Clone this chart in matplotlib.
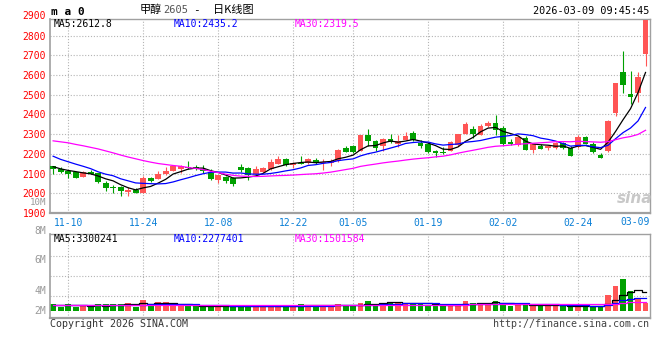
import matplotlib
matplotlib.use('Agg')
import matplotlib.pyplot as plt
import matplotlib.transforms as mtransforms
import numpy as np

# 日K数据 (11-06 ~ 03-09, 共80根)
opens = [2137, 2123, 2113, 2109, 2084, 2109, 2101, 2051, 2032, 2032,
         2009, 2019, 2002, 2077, 2072, 2096, 2114, 2124, 2132, 2133,
         2125, 2110, 2068, 2085, 2075, 2134, 2127, 2097, 2110, 2122,
         2150, 2173, 2143, 2156, 2156, 2168, 2156, 2156, 2162, 2230,
         2241, 2212, 2297, 2265, 2239, 2277, 2251, 2272, 2308, 2255,
         2248, 2212, 2207, 2214, 2243, 2301, 2328, 2297, 2340, 2359,
         2329, 2259, 2244, 2278, 2222, 2239, 2232, 2232, 2256, 2232,
         2235, 2286, 2252, 2196, 2215, 2409, 2614, 2502, 2511, 2707]
highs = [2140, 2132, 2115, 2110, 2115, 2120, 2105, 2060, 2041, 2035,
         2034, 2029, 2087, 2085, 2111, 2135, 2140, 2145, 2162, 2143,
         2143, 2122, 2095, 2090, 2085, 2148, 2134, 2138, 2132, 2173,
         2190, 2178, 2160, 2190, 2177, 2177, 2173, 2173, 2225, 2238,
         2245, 2297, 2325, 2268, 2279, 2303, 2297, 2313, 2316, 2268,
         2260, 2222, 2234, 2265, 2303, 2362, 2342, 2350, 2366, 2396,
         2342, 2273, 2285, 2290, 2250, 2252, 2244, 2261, 2261, 2239,
         2295, 2293, 2261, 2205, 2371, 2558, 2723, 2621, 2614, 2880]
lows = [2096, 2105, 2075, 2078, 2082, 2096, 2050, 2012, 2000, 1986,
        1986, 2000, 2000, 2055, 2070, 2094, 2111, 2101, 2125, 2120,
        2105, 2066, 2050, 2054, 2037, 2110, 2066, 2088, 2105, 2119,
        2149, 2140, 2127, 2148, 2151, 2150, 2119, 2140, 2160, 2208,
        2205, 2212, 2239, 2217, 2217, 2255, 2234, 2268, 2265, 2229,
        2203, 2186, 2200, 2212, 2239, 2300, 2280, 2294, 2337, 2297,
        2244, 2245, 2240, 2218, 2202, 2227, 2218, 2227, 2227, 2188,
        2232, 2252, 2205, 2179, 2210, 2393, 2507, 2453, 2465, 2646]
closes = [2123, 2108, 2099, 2079, 2109, 2097, 2055, 2027, 2027, 2012,
          2019, 2002, 2077, 2063, 2097, 2114, 2137, 2137, 2127, 2123,
          2115, 2071, 2093, 2062, 2045, 2119, 2091, 2122, 2127, 2160,
          2173, 2143, 2153, 2151, 2173, 2156, 2161, 2165, 2220, 2211,
          2211, 2297, 2263, 2229, 2277, 2260, 2267, 2292, 2268, 2238,
          2209, 2202, 2202, 2260, 2303, 2350, 2303, 2342, 2355, 2320,
          2249, 2249, 2283, 2222, 2249, 2227, 2239, 2256, 2229, 2188,
          2286, 2252, 2210, 2179, 2368, 2558, 2550, 2490, 2589, 2877]

ma5 = [2135, 2124, 2116, 2110, 2103.6, 2098.4, 2087.8, 2073.4, 2063, 2043.6,
       2028, 2017.4, 2027.4, 2034.6, 2051.6, 2070.6, 2097.6, 2109.6, 2122.4, 2127.6,
       2127.8, 2114.6, 2105.8, 2092.8, 2077.2, 2078, 2082, 2087.8, 2100.8, 2123.8,
       2134.6, 2145, 2151.2, 2156, 2158.6, 2155.2, 2158.8, 2161.2, 2175, 2182.6,
       2193.6, 2220.8, 2240.4, 2242.2, 2255.4, 2265.2, 2259.2, 2265, 2272.8, 2265,
       2254.8, 2241.8, 2223.8, 2222.2, 2235.2, 2263.4, 2283.6, 2311.6, 2330.6, 2334,
       2313.8, 2303, 2291.2, 2264.6, 2250.4, 2246, 2244, 2238.6, 2240, 2227.8,
       2239.6, 2242.2, 2233, 2223, 2259, 2313.4, 2373, 2429, 2511, 2612.8]
ma10 = [2188, 2172, 2160, 2148, 2137, 2125, 2109, 2097, 2089, 2073.6,
        2063.2, 2052.6, 2050.4, 2048.8, 2047.6, 2049.3, 2057.5, 2068.5, 2078.5, 2089.6,
        2099.2, 2106.1, 2107.7, 2107.6, 2102.4, 2102.9, 2098.3, 2096.8, 2096.8, 2100.5,
        2106.3, 2113.5, 2119.5, 2128.4, 2141.2, 2144.9, 2151.9, 2156.2, 2165.5, 2170.6,
        2174.4, 2189.8, 2200.8, 2208.6, 2219, 2229.4, 2240, 2252.7, 2257.5, 2260.2,
        2260, 2250.5, 2244.4, 2247.5, 2250.1, 2259.1, 2262.7, 2267.7, 2276.4, 2284.6,
        2288.6, 2293.3, 2301.4, 2297.6, 2292.2, 2279.9, 2273.5, 2264.9, 2252.3, 2239.1,
        2242.8, 2243.1, 2235.8, 2231.5, 2243.4, 2276.5, 2307.6, 2331, 2367, 2435.2]
ma30 = [2266, 2261, 2256, 2248, 2241, 2233, 2225, 2215, 2205, 2194,
        2184, 2175, 2166, 2158, 2151, 2146, 2141, 2137, 2131, 2126,
        2120, 2112, 2105, 2097, 2091, 2087, 2086, 2085, 2086, 2087.9,
        2089.6, 2090.7, 2092.5, 2094.9, 2097.1, 2099, 2102.6, 2107.2, 2113.6, 2120.2,
        2126.6, 2136.5, 2142.7, 2148.2, 2154.2, 2159.1, 2163.4, 2168.6, 2173.3, 2177.1,
        2180.2, 2184.6, 2188.2, 2194.8, 2203.4, 2211.1, 2218.2, 2225.5, 2233.1, 2238.5,
        2241, 2244.5, 2248.9, 2251.2, 2253.8, 2256.1, 2258.7, 2261.8, 2262.1, 2261.3,
        2263.8, 2262.3, 2260.5, 2258.9, 2261.9, 2271.8, 2281.3, 2287.9, 2298.6, 2319.5]

# 成交量 (百万)
volume = [1.15, 0.75, 1.3, 0.75, 1.0, 0.75, 1.15, 1.15, 1.15, 1.3,
          1.45, 0.75, 1.9, 1.0, 1.6, 1.6, 1.0, 0.85, 0.85, 0.8,
          0.85, 0.85, 0.8, 0.8, 0.85, 0.8, 0.8, 0.85, 0.8, 0.85,
          0.9, 0.85, 0.95, 1.2, 1.0, 0.85, 1.0, 0.9, 1.2, 1.05,
          0.85, 1.45, 1.75, 1.3, 1.45, 1.45, 1.45, 1.45, 1.45, 1.2,
          1.0, 0.85, 0.85, 1.15, 1.3, 1.75, 1.45, 1.3, 1.3, 1.75,
          1.45, 0.85, 1.15, 1.0, 1.0, 1.0, 1.0, 1.0, 0.85, 0.85,
          1.0, 0.86, 0.86, 0.86, 2.7, 4.2, 5.4, 3.5, 2.0, 1.4]
vma5 = [1.1, 1.05, 1.05, 1.0, 0.99, 0.91, 0.99, 0.96, 1.04, 1.1,
        1.24, 1.16, 1.31, 1.28, 1.34, 1.37, 1.42, 1.21, 1.18, 1.02,
        0.87, 0.84, 0.83, 0.82, 0.83, 0.82, 0.81, 0.82, 0.82, 0.82,
        0.84, 0.85, 0.87, 0.95, 0.98, 0.97, 1.0, 0.99, 0.99, 1.0,
        1.0, 1.09, 1.26, 1.28, 1.36, 1.48, 1.48, 1.42, 1.45, 1.4,
        1.31, 1.19, 1.07, 1.01, 1.03, 1.18, 1.3, 1.39, 1.42, 1.51,
        1.45, 1.33, 1.3, 1.24, 1.09, 1.0, 1.03, 1.0, 0.97, 0.94,
        0.94, 0.91, 0.88, 0.89, 1.26, 1.9, 2.8, 3.33, 3.56, 3.30]
vma10 = [1.1, 1.1, 1.08, 1.08, 1.06, 1.05, 1.05, 1.04, 1.04, 1.045,
         1.075, 1.075, 1.135, 1.16, 1.22, 1.305, 1.29, 1.26, 1.23, 1.18,
         1.12, 1.13, 1.02, 1.0, 0.925, 0.845, 0.825, 0.825, 0.82, 0.825,
         0.83, 0.83, 0.845, 0.885, 0.9, 0.905, 0.925, 0.93, 0.97, 0.99,
         0.985, 1.045, 1.125, 1.135, 1.18, 1.24, 1.285, 1.34, 1.365, 1.38,
         1.395, 1.335, 1.245, 1.23, 1.215, 1.245, 1.245, 1.23, 1.215, 1.27,
         1.315, 1.315, 1.345, 1.33, 1.3, 1.225, 1.18, 1.15, 1.105, 1.015,
         0.97, 0.971, 0.942, 0.928, 1.098, 1.418, 1.858, 2.108, 2.223, 2.277]
vma30 = [1.05, 1.05, 1.05, 1.04, 1.04, 1.04, 1.03, 1.03, 1.03, 1.03,
         1.03, 1.02, 1.03, 1.03, 1.04, 1.05, 1.05, 1.05, 1.04, 1.04,
         1.04, 1.03, 1.03, 1.03, 1.02, 1.02, 1.02, 1.02, 1.02, 1.017,
         1.008, 1.012, 1.0, 1.015, 1.015, 1.018, 1.013, 1.005, 1.007, 0.998,
         0.978, 1.002, 0.997, 1.007, 1.002, 0.997, 1.012, 1.032, 1.052, 1.065,
         1.07, 1.07, 1.072, 1.083, 1.098, 1.13, 1.152, 1.167, 1.183, 1.213,
         1.232, 1.232, 1.238, 1.232, 1.232, 1.237, 1.237, 1.24, 1.228, 1.222,
         1.227, 1.207, 1.177, 1.163, 1.204, 1.296, 1.428, 1.496, 1.514, 1.502]

# 日期刻度 (K线序号 -> 标签)
tick_idx = [2, 12, 22, 32, 40, 50, 60, 70]
tick_dates = ['11-10', '11-24', '12-08', '12-22', '01-05', '01-19', '02-02', '02-24']
last_date = '03-09'

price_ticks = [1900, 2000, 2100, 2200, 2300, 2400, 2500, 2600, 2700, 2800, 2900]
vol_labels = ['2M', '4M', '6M', '8M', '10M']
vol_label_at = [0.0, 3.4, 8.7, 13.6, 18.45]

title_name = '甲醇'
title_code = '2605'
title_rest = '日K线图'
stamp = '2026-03-09 09:45:45'
ma_price = ['MA5:2612.8', 'MA10:2435.2', 'MA30:2319.5']
ma_vol = ['MA5:3300241', 'MA10:2277401', 'MA30:1501584']

RED = '#ff5555'
GREEN = '#00a000'
MONO = 'DejaVu Sans Mono'
CJK = ['Noto Sans CJK SC', 'DejaVu Sans']
GRID = dict(color='#b4b4b4', linestyle=(0, (1, 1.6)), linewidth=0.8)
MA_COLORS = ['black', '#0000ff', '#ff00ff']

W, H = 660, 360
fig = plt.figure(figsize=(W / 100, H / 100), dpi=100)
fig.patch.set_facecolor('white')


def px_box(l, t, r, b):
    return [l / W, 1 - b / H, (r - l) / W, (b - t) / H]


def ftext(px, py, s, **kw):
    kw.setdefault('va', 'center')
    fig.text(px / W, 1 - py / H, s, **kw)


def style_spines(a):
    for side, lw in (('left', 1.2), ('bottom', 1.6), ('top', 1.0), ('right', 1.0)):
        a.spines[side].set_color('#a0a0a0')
        a.spines[side].set_linewidth(lw)


ax = fig.add_axes(px_box(50.5, 19, 649.5, 213))
axv = fig.add_axes(px_box(50.5, 234.3, 649.5, 317.7))

x = np.arange(len(closes))
o = np.array(opens, dtype=float)
c = np.array(closes, dtype=float)
up = c >= o
colors = np.where(up, RED, GREEN)

# K线
ax.vlines(x, lows, highs, colors=colors, linewidth=0.8, zorder=2)
ax.bar(x, np.maximum(np.abs(c - o), 3), bottom=np.minimum(o, c), width=0.78,
       color=colors, linewidth=0, zorder=3)
for vals, col in zip((ma5, ma10, ma30), MA_COLORS):
    ax.plot(x, vals, color=col, linewidth=0.9, zorder=4)

ax.set_xlim(-0.35, 79.53)
ax.set_ylim(1900, 2884)
ax.set_yticks(price_ticks[:-1])
ax.set_yticklabels([str(v) for v in price_ticks[:-1]], family=MONO, fontsize=7, color='#ff0000')
ax.set_xticks(tick_idx)
ax.set_xticklabels(tick_dates, family=MONO, fontsize=7, color='#0a7fd6')
ax.tick_params(length=0)
ax.tick_params(axis='y', pad=3.2)
ax.tick_params(axis='x', pad=3.6)
ax.grid(True, **GRID)
ax.set_axisbelow(True)
style_spines(ax)
ax.text(-0.0075, price_ticks[-1], str(price_ticks[-1]),
        transform=mtransforms.blended_transform_factory(ax.transAxes, ax.transData),
        ha='right', va='center', family=MONO, fontsize=7, color='#ff0000', clip_on=False)
ax.text(1.0, -0.045, last_date, transform=ax.transAxes, ha='right', va='center',
        family=MONO, fontsize=7, color='#0a7fd6')

# 成交量
axv.bar(x, volume, width=0.78, color=colors, linewidth=0, zorder=2)
for vals, col in zip((vma5, vma10, vma30), MA_COLORS):
    axv.plot(x, vals, color=col, linewidth=0.9, drawstyle='steps-mid', zorder=3)
axv.set_xlim(-0.35, 79.53)
axv.set_ylim(-1.1, 13.03)
axv.set_xticks(tick_idx)
axv.set_xticklabels([])
axv.set_yticks([2.63, 6.02, 9.41])
axv.set_yticklabels([])
axv.tick_params(length=0)
axv.grid(True, **GRID)
axv.set_axisbelow(True)
style_spines(axv)
vtrans = mtransforms.blended_transform_factory(axv.transAxes, axv.transData)
for lab, v in zip(vol_labels, vol_label_at):
    axv.text(-0.0075, v, lab, transform=vtrans, ha='right', va='center',
             family=MONO, fontsize=6.6 if lab == '10M' else 7, color='#999999', clip_on=False)

# 文字
ftext(51, 12, 'm a 0', family=MONO, fontsize=8, fontweight='bold')
ftext(140, 10, title_name, family=CJK, fontsize=8)
ftext(163, 10, title_code, family=MONO, fontsize=7.5, color='#555555')
ftext(196, 10, '-', family=MONO, fontsize=8, ha='center')
ftext(213, 10, title_rest, family=CJK, fontsize=8)
ftext(649, 11.5, stamp, family=MONO, fontsize=7.3, ha='right')
for s, px, col in zip(ma_price, (54, 174, 295), MA_COLORS):
    ftext(px, 24, s, family=MONO, fontsize=7, color=col)
for s, px, col in zip(ma_vol, (54, 174, 295), MA_COLORS):
    ftext(px, 239, s, family=MONO, fontsize=7, color=col)
ftext(50, 324, 'Copyright 2026 SINA.COM', family=MONO, fontsize=7.2, color='#333333')
ftext(649, 324, 'http://finance.sina.com.cn', family=MONO, fontsize=7.2, color='#444444', ha='right')
ftext(635, 198, 'sina', fontsize=11, fontweight='bold', style='italic', color='#c8c8c8', ha='center')

fig.savefig('out.png', dpi=100)
